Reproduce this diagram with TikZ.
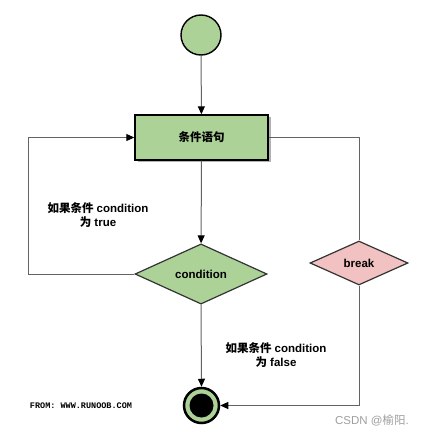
\documentclass[tikz,border=0pt]{standalone}
\usepackage{fontspec}
\setmainfont{Liberation Sans}
\setmonofont{Liberation Mono}
\newfontfamily\cjk{Noto Sans CJK SC}
\usetikzlibrary{arrows.meta,shapes.geometric,shadows,positioning}
\newcommand{\zh}[1]{{\cjk\bfseries #1}}
\definecolor{actgreen}{RGB}{172,210,152}
\definecolor{brkpink}{RGB}{242,193,193}
\definecolor{flowgray}{RGB}{100,100,100}
\tikzset{
  flow/.style={draw=flowgray,line width=1pt},
  flowarrow/.style={flow,-{Triangle[length=8pt,width=7pt,color=black]}},
  stmtbox/.style={draw=black,line width=1.4pt,fill=actgreen,minimum width=133pt,minimum height=45pt,
    font=\fontsize{11.5}{13}\selectfont\bfseries,drop shadow={shadow xshift=3pt,shadow yshift=-2pt,fill=gray!60,opacity=1}},
  decision/.style={diamond,draw=black!80,line width=1.2pt,inner sep=0pt,font=\fontsize{11.5}{13}\selectfont\bfseries},
  lbl/.style={align=center,font=\fontsize{11.5}{14}\selectfont\bfseries}
}
\begin{document}
\begin{tikzpicture}[x=1pt,y=-1pt]
\useasboundingbox[fill=white] (0,0) rectangle (425,447);
% start and end
\node[circle,draw=black,line width=1.4pt,fill=actgreen,minimum size=40pt,inner sep=0pt] (start) at (201,35) {};
\node[circle,draw=black,line width=2.5pt,fill=actgreen,minimum size=35pt,inner sep=0pt] (end) at (201.5,405.5) {};
\fill[black] (end.center) circle (12pt);
% statement and decisions
\node[stmtbox] (stmt) at (201.5,137.5) {\zh{条件语句}};
\node[decision,fill=actgreen,minimum width=132pt,minimum height=58pt] (cond) at (201,274) {condition};
\node[decision,fill=brkpink,minimum width=98pt,minimum height=44pt] (brk) at (359,263) {break};
\coordinate (lcorner) at (28,274);
% connectors
\draw[flowarrow] (start) -- (stmt);
\draw[flowarrow] (stmt) -- (cond);
\draw[flowarrow] (cond.west) -- (lcorner) |- (stmt.west);
\draw[flow] (stmt.east) -| (brk.north);
\draw[flowarrow] (brk.south) |- (end.east);
\draw[flowarrow] (cond.south) -- (end.north);
% labels
\node[lbl] (truelbl) at (98,215) {\zh{如果条件} condition\\\zh{为} true};
\node[lbl] (falselbl) at (276,355) {\zh{如果条件} condition\\\zh{为} false};
\node[font=\ttfamily\bfseries\fontsize{8.5}{10}\selectfont] (from) at (81,406) {FROM: WWW.RUNOOB.COM};
\node[text=gray!75,font=\fontsize{11.5}{13}\selectfont] (csdn) at (372,420) {CSDN @{\cjk 榆阳}.};
\end{tikzpicture}
\end{document}
